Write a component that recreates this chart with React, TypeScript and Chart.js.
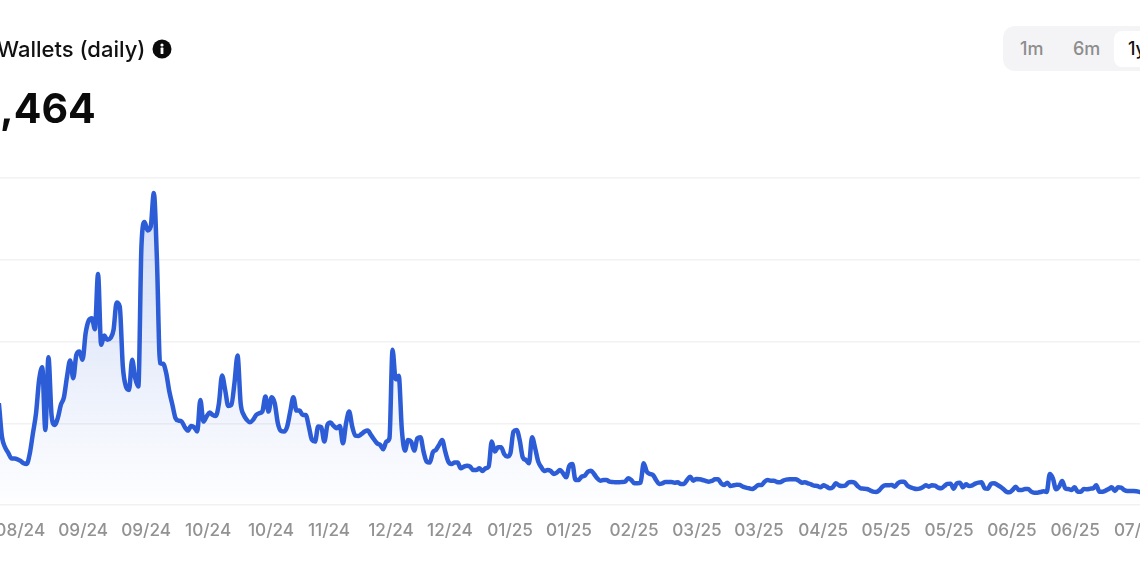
import React, { useEffect, useRef } from "react";
import { Chart, registerables } from "chart.js";

Chart.register(...registerables);

const titleText = "Wallets (daily)";
const valueText = ",464";
const rangeOptions = ["1m", "6m", "1y"];

const tickLabels = ["08/24", "09/24", "09/24", "10/24", "10/24", "11/24", "12/24", "12/24", "01/25", "01/25", "02/25", "03/25", "03/25", "04/25", "05/25", "05/25", "06/25", "06/25", "07/25"];
const tickDays = [7.9, 28.2, 48.5, 68.5, 88.8, 107.5, 127.5, 146.5, 165.9, 184.9, 205.9, 226.2, 246.2, 266.9, 287.2, 307.5, 327.8, 348.2, 368.5];

const walletsPart1 = [365, 305, 205, 173, 157, 140, 139, 137, 132, 125, 123, 155, 215, 275, 375, 413, 225, 443, 270, 240, 260, 300, 323, 385, 433, 380, 450, 460, 435, 515, 553, 560, 527, 692, 480, 508, 495, 500, 525, 607, 595, 415, 355, 345, 435, 380, 355, 775, 848, 823, 835, 935, 735, 425, 423, 395, 340, 300, 260, 253, 250, 233, 223, 237, 233, 220, 315, 250, 265, 277, 270, 267, 305, 388, 345, 297, 300, 365, 448, 305, 270, 255, 248, 255, 270, 275, 280, 325, 280, 323, 305, 245, 222, 220, 235, 280, 323, 283, 283, 270, 270, 235, 195, 190, 235, 233, 190, 240, 247, 237, 230, 237, 185, 245, 280, 235, 208, 207, 213, 220, 223, 210, 197, 185];
const walletsPart2 = [180, 167, 190, 200, 465, 377, 387, 225, 163, 195, 190, 163, 200, 203, 160, 130, 127, 158, 165, 180, 195, 160, 130, 123, 127, 127, 110, 115, 118, 115, 105, 105, 110, 102, 110, 115, 190, 160, 173, 173, 153, 145, 155, 220, 225, 195, 143, 135, 125, 203, 170, 130, 113, 102, 105, 102, 93, 97, 105, 95, 83, 117, 123, 75, 75, 85, 88, 100, 103, 93, 80, 73, 75, 75, 70, 69, 68, 68, 69, 70, 80, 75, 65, 65, 67, 125, 100, 93, 90, 75, 63, 65, 69, 69, 69, 67, 68, 63, 63, 75, 85, 73, 78, 77, 75, 72, 70, 72, 77, 77, 65, 60, 67, 57, 59, 61, 60, 55, 52, 50, 48, 53, 60];
const walletsPart3 = [60, 70, 75, 73, 73, 69, 68, 73, 76, 77, 77, 77, 73, 67, 68, 65, 62, 58, 57, 53, 59, 55, 50, 53, 65, 59, 57, 58, 67, 69, 67, 57, 50, 49, 48, 44, 40, 39, 44, 55, 59, 59, 60, 55, 65, 70, 70, 59, 53, 50, 48, 49, 53, 59, 55, 59, 58, 52, 50, 57, 63, 64, 49, 65, 67, 53, 62, 57, 59, 64, 67, 68, 50, 49, 63, 65, 61, 55, 48, 40, 38, 45, 55, 45, 45, 48, 48, 40, 37, 37, 39, 41, 39, 93, 80, 47, 55, 72, 50, 48, 45, 53, 40, 40, 48, 47, 49, 50, 59, 40, 40, 43, 48, 53, 42, 53, 52, 45, 42, 42, 42, 41, 39, 38, 38];
const walletValues = [...walletsPart1, ...walletsPart2, ...walletsPart3];

const FONT = "Inter, 'Noto Sans', sans-serif";

export default function App() {
  const ref = useRef<HTMLCanvasElement>(null);

  useEffect(() => {
    document.body.style.margin = "0";
    document.body.style.background = "#fff";
    const chart = new Chart(ref.current as HTMLCanvasElement, {
      type: "line",
      data: {
        datasets: [
          {
            data: walletValues.map((y, x) => ({ x, y })),
            borderColor: "#2c5cd6",
            borderWidth: 4.5,
            pointRadius: 0,
            tension: 0.25,
            cubicInterpolationMode: "monotone",
            borderJoinStyle: "round",
            fill: "origin",
            backgroundColor: (ctx: any) => {
              const area = ctx.chart.chartArea;
              if (!area) return "rgba(45,95,217,0.1)";
              const g = ctx.chart.ctx.createLinearGradient(0, area.top, 0, area.bottom);
              g.addColorStop(0, "rgba(45,95,217,0.24)");
              g.addColorStop(1, "rgba(45,95,217,0.005)");
              return g;
            },
          },
        ],
      },
      options: {
        responsive: false,
        animation: false,
        layout: { padding: { top: 178, left: 0, right: 0, bottom: 0 } },
        plugins: { legend: { display: false }, tooltip: { enabled: false }, title: { display: false } },
        scales: {
          x: {
            type: "linear",
            min: 1.377,
            max: 369.1,
            grid: { display: false },
            border: { display: false },
            afterBuildTicks: (s: any) => {
              s.ticks = tickDays.map((value) => ({ value }));
            },
            afterFit: (s: any) => {
              s.paddingLeft = 0;
              s.paddingRight = 0;
              s.height = 65;
            },
            ticks: {
              autoSkip: false,
              maxRotation: 0,
              minRotation: 0,
              padding: 8,
              color: "#929292",
              font: { family: FONT, size: 17.2, weight: "500" },
              callback: (_v: any, i: number) => tickLabels[i],
            },
          },
          y: {
            min: 0,
            max: 980,
            afterFit: (s: any) => {
              s.width = 0;
            },
            grid: { color: "#f2f2f4", lineWidth: 1.5, drawTicks: false },
            border: { display: false },
            ticks: { display: false, stepSize: 245 },
          },
        },
      },
    } as any);
    return () => chart.destroy();
  }, []);

  return (
    <div style={{ position: "fixed", left: 0, top: 0, width: 1140, height: 570, overflow: "hidden", background: "#fff", fontFamily: FONT }}>
      <canvas ref={ref} width={1140} height={570} style={{ position: "absolute", left: 0, top: 0, display: "block" }} />
      <div style={{ position: "absolute", left: -3, top: 35, fontSize: 22, fontWeight: 500, lineHeight: "28px", color: "#111", whiteSpace: "nowrap" }}>{titleText}</div>
      <svg width="20" height="20" viewBox="0 0 20 20" style={{ position: "absolute", left: 152, top: 39 }}>
        <circle cx="10" cy="10" r="9.5" fill="#0b0b0b" />
        <rect x="8.6" y="8.6" width="2.8" height="6.4" rx="0.6" fill="#fff" />
        <circle cx="10" cy="6" r="1.6" fill="#fff" />
      </svg>
      <div style={{ position: "absolute", left: 0, top: 83, fontSize: 41, fontWeight: 700, lineHeight: "50px", color: "#0b0b0b", whiteSpace: "nowrap" }}>{valueText}</div>
      <div style={{ position: "absolute", left: 1003, top: 26, width: 160, height: 45, borderRadius: 12, background: "#f4f4f6" }} />
      <div style={{ position: "absolute", left: 1114, top: 31, width: 60, height: 36, borderRadius: 8, background: "#fff" }} />
      {rangeOptions.map((t, i) => (
        <div key={t} style={{ position: "absolute", left: [1020, 1073, 1128][i], top: 37, fontSize: 18, fontWeight: 500, lineHeight: "24px", color: i === 2 ? "#111" : "#8d8d8d", whiteSpace: "nowrap" }}>{t}</div>
      ))}
    </div>
  );
}
